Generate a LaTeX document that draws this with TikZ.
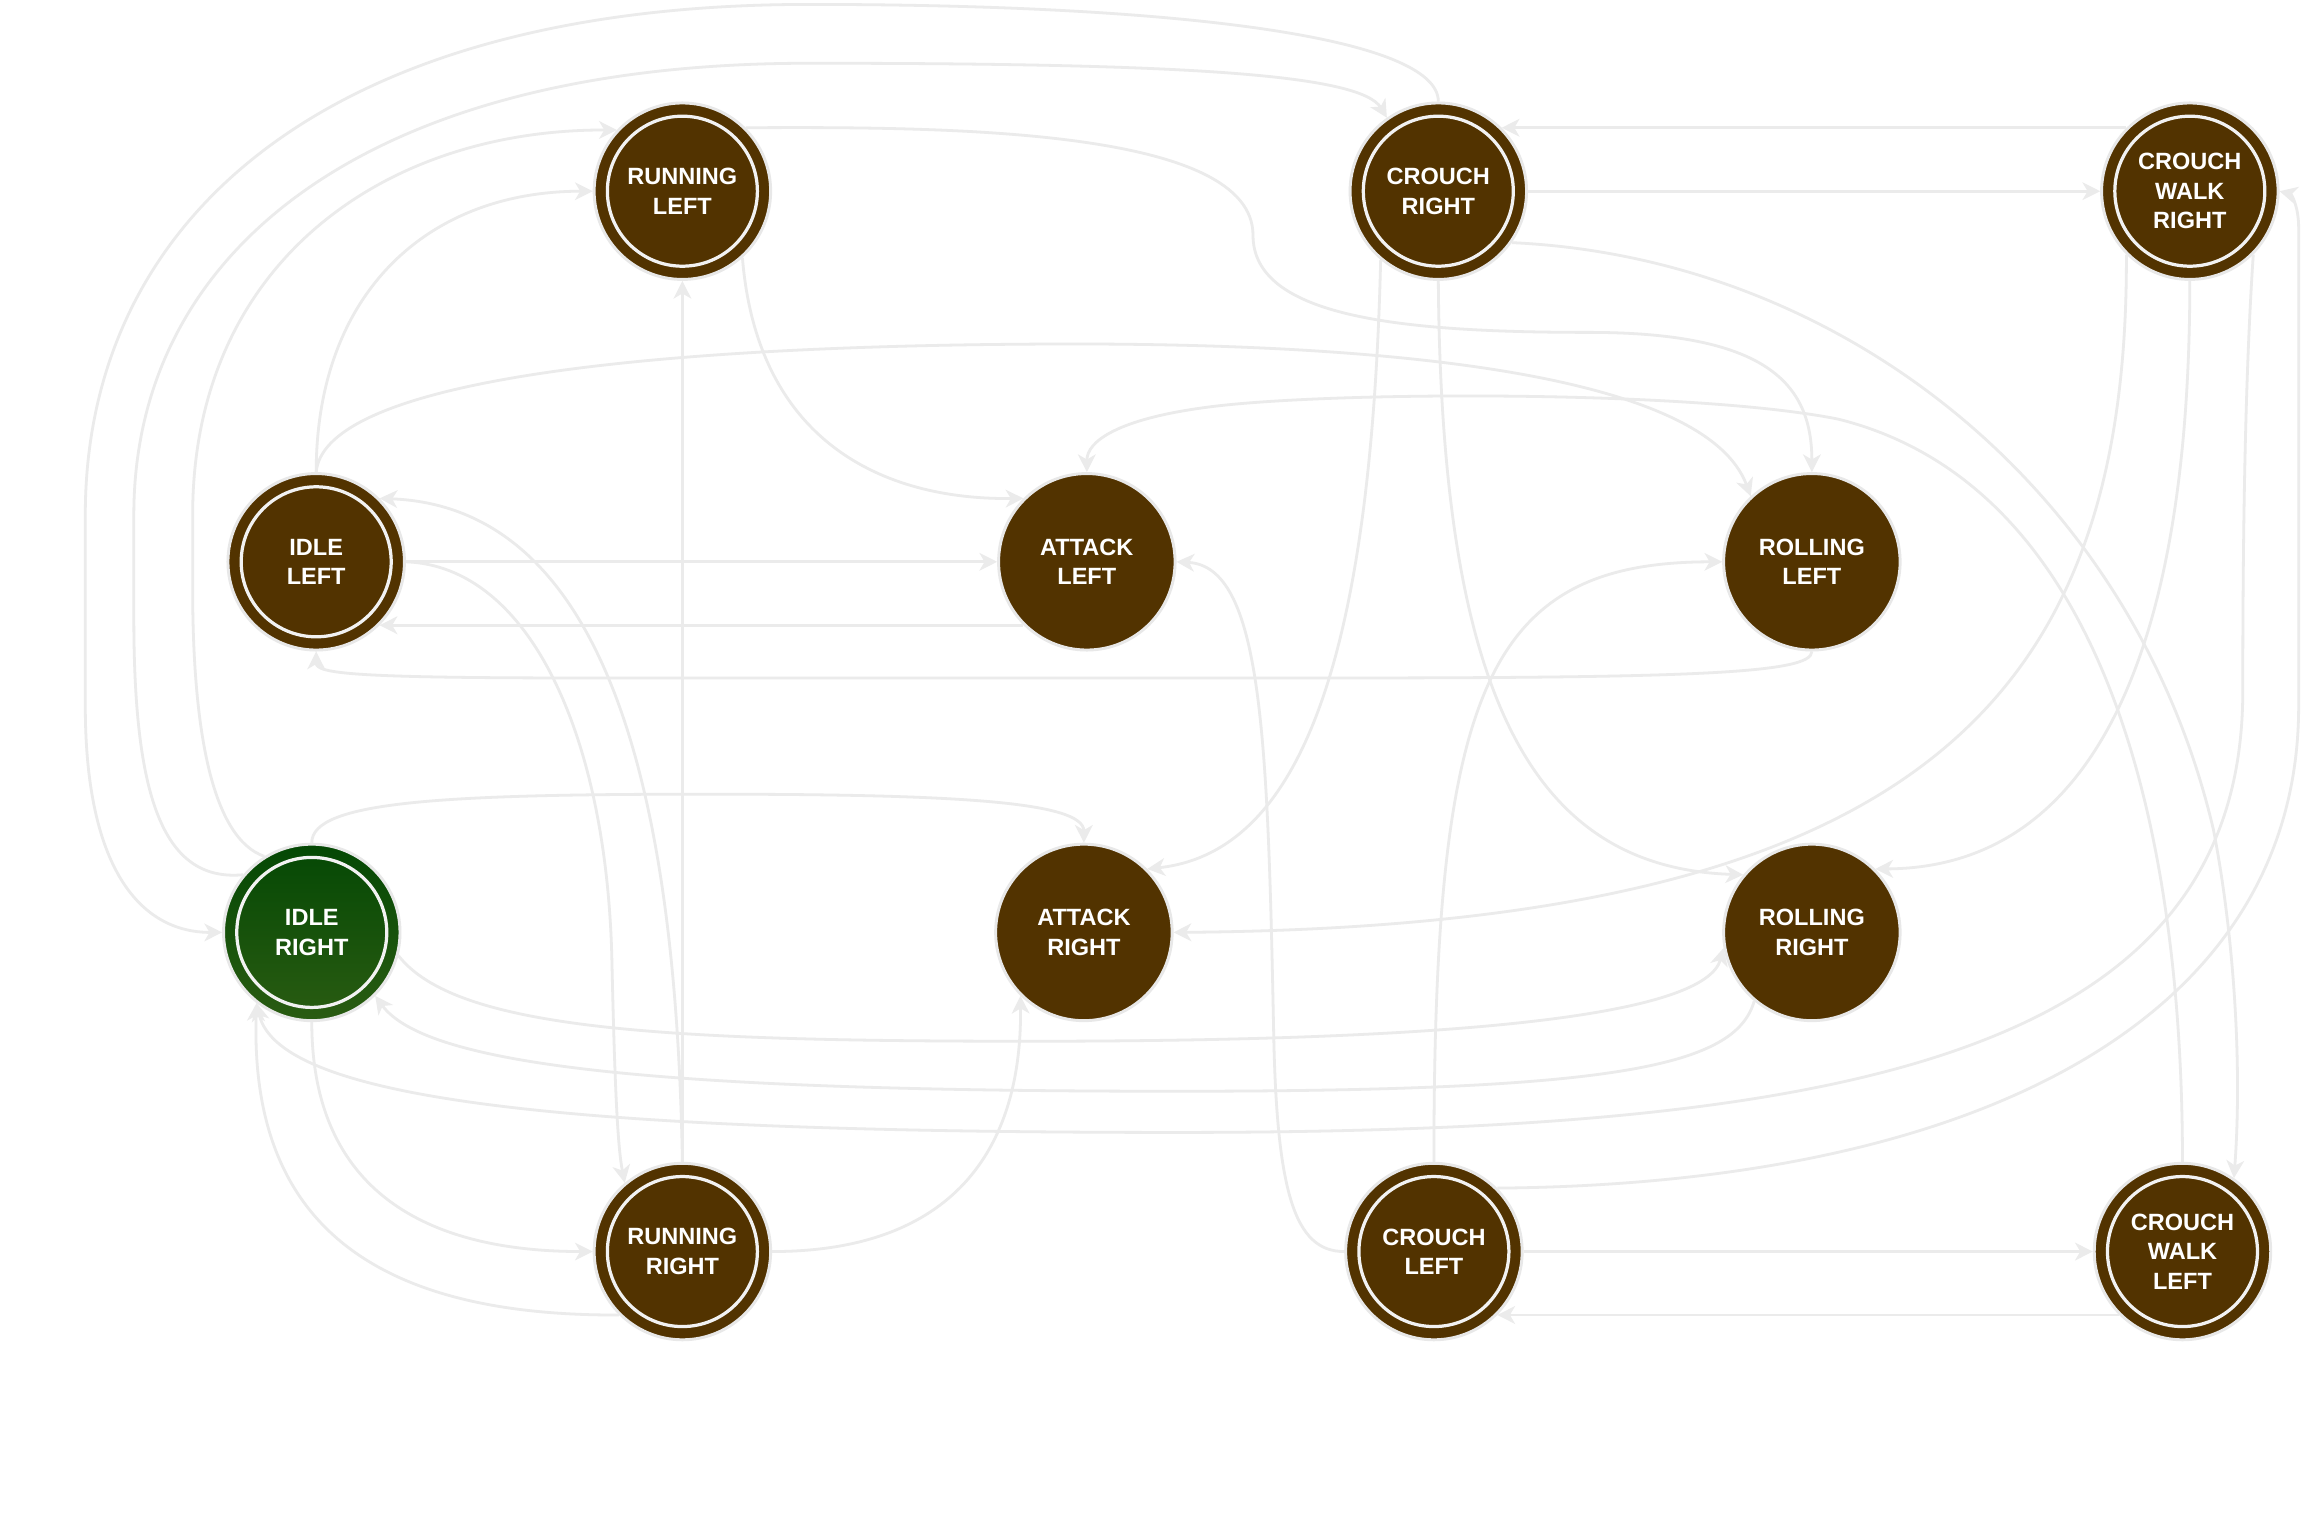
\documentclass[tikz,border=0pt]{standalone}
\usepackage{fontspec}
\setmainfont{Liberation Sans}
\usetikzlibrary{arrows.meta}
\definecolor{nodebrown}{RGB}{82,51,0}
\definecolor{nodeborder}{RGB}{232,232,232}
\definecolor{linec}{RGB}{235,235,235}
\definecolor{ringc}{RGB}{242,242,242}
\definecolor{greentop}{RGB}{4,72,4}
\definecolor{greenbot}{RGB}{42,92,18}
\tikzset{
 state/.style={circle, minimum size=120pt, inner sep=0pt, draw=nodeborder, line width=2pt,
   fill=nodebrown, text=white, align=center, font=\fontsize{16}{20}\selectfont\bfseries},
 ringed/.style={state, path picture={\draw[ringc, line width=2.2pt] (path picture bounding box.center) circle[radius=51pt];}},
 startstate/.style={ringed, top color=greentop, bottom color=greenbot},
 trans/.style={draw=linec, line width=1.9pt, -{Stealth[length=12pt,width=12pt,inset=3.5pt]}},
}
\begin{document}
\begin{tikzpicture}[x=1pt,y=-1pt]
\useasboundingbox[fill=white] (0,0) rectangle (1568,1037);
% nodes
\node[ringed] (rl) at (464,130) {RUNNING\\LEFT};
\node[ringed] (cr) at (978,130) {CROUCH\\RIGHT};
\node[ringed] (cwr) at (1489,130) {CROUCH\\WALK\\RIGHT};
\node[ringed] (il) at (215,382) {IDLE\\LEFT};
\node[state] (al) at (739,382) {ATTACK\\LEFT};
\node[state] (rol) at (1232,382) {ROLLING\\LEFT};
\node[startstate] (ir) at (212,634) {IDLE\\RIGHT};
\node[state] (ar) at (737,634) {ATTACK\\RIGHT};
\node[state] (ror) at (1232,634) {ROLLING\\RIGHT};
\node[ringed] (rr) at (464,851) {RUNNING\\RIGHT};
\node[ringed] (cl) at (975,851) {CROUCH\\LEFT};
\node[ringed] (cwl) at (1484,851) {CROUCH\\WALK\\LEFT};
% transitions
\draw[trans] (cr.90) .. controls (978,25) and (800,3) .. (550,3) .. controls (220,3) and (58,150) .. (58,350) -- (58,480) .. controls (58,590) and (95,634) .. (ir.180);
\draw[trans] (ir.140) .. controls (110,600) and (91,540) .. (91,420) -- (91,350) .. controls (91,170) and (250,43) .. (550,43) .. controls (800,43) and (925,50) .. (cr.125);
\draw[trans] (ir.122) .. controls (145,570) and (131,500) .. (131,400) -- (131,350) .. controls (131,180) and (260,88) .. (rl.137);
\draw[trans] (il.90) .. controls (215,200) and (290,130) .. (rl.180);
\draw[trans] (il.90) .. controls (220,265) and (400,236) .. (700,234) .. controls (950,232) and (1160,255) .. (rol.133);
\draw[trans] (rl.45) .. controls (650,86) and (852,88) .. (852,160) .. controls (852,215) and (950,226) .. (1080,226) .. controls (1200,226) and (1232,260) .. (rol.90);
\draw[trans] (rl.-48) .. controls (515,300) and (600,340) .. (al.135);
\draw[trans] (cr.0) -- (cwr.180);
\draw[trans] (cwr.135) -- (cr.45);
\draw[trans] (cr.-35) .. controls (1250,175) and (1450,330) .. (1505,564) .. controls (1518,630) and (1525,720) .. (cwl.55);
\draw[trans] (cr.-90) .. controls (980,470) and (1040,590) .. (ror.140);
\draw[trans] (cr.-130) .. controls (932,460) and (880,580) .. (ar.45);
\draw[trans] (cwr.-135) .. controls (1447,480) and (1300,630) .. (ar.0);
\draw[trans] (cwr.-90) .. controls (1489,450) and (1420,590) .. (ror.45);
\draw[trans] (cwr.-45) .. controls (1527,250) and (1525,350) .. (1525,470) .. controls (1525,720) and (1250,770) .. (800,770) .. controls (400,770) and (190,750) .. (ir.-128);
\draw[trans] (cwl.90) .. controls (1484,560) and (1430,330) .. (1250,285) .. controls (1150,265) and (900,266) .. (820,277) .. controls (760,285) and (739,300) .. (al.90);
\draw[trans] (il.0) -- (al.180);
\draw[trans] (al.-135) -- (il.-45);
\draw[trans] (rol.-90) .. controls (1232,458) and (1150,461) .. (900,461) -- (400,461) .. controls (240,461) and (215,458) .. (il.-90);
\draw[trans] (il.0) .. controls (360,385) and (412,500) .. (416,650) .. controls (418,740) and (420,780) .. (rr.130);
\draw[trans] (rr.90) -- (rl.-90);
\draw[trans] (rr.90) .. controls (460,560) and (420,345) .. (il.45);
\draw[trans] (rr.0) .. controls (640,851) and (695,790) .. (ar.-135);
\draw[trans] (ir.-90) .. controls (212,810) and (290,851) .. (rr.180);
\draw[trans] (rr.-135) .. controls (240,895) and (170,820) .. (ir.-128);
\draw[trans] (ir.90) .. controls (212,545) and (300,540) .. (480,540) .. controls (650,540) and (737,545) .. (ar.90);
\draw[trans] (ir.-15) .. controls (310,700) and (450,708) .. (700,708) .. controls (1000,708) and (1160,690) .. (ror.190);
\draw[trans] (ror.-130) .. controls (1180,725) and (1100,742) .. (800,742) .. controls (450,742) and (290,725) .. (ir.-45);
\draw[trans] (cl.180) .. controls (880,851) and (868,810) .. (866,700) .. controls (862,500) and (858,385) .. (al.0);
\draw[trans] (cl.90) .. controls (975,470) and (1010,382) .. (rol.180);
\draw[trans] (cl.45) .. controls (1350,805) and (1563,690) .. (1563,480) -- (1563,155) .. controls (1563,140) and (1558,132) .. (cwr.0);
\draw[trans] (cl.0) -- (cwl.180);
\draw[trans] (cwl.-135) -- (cl.-45);
\end{tikzpicture}
\end{document}
